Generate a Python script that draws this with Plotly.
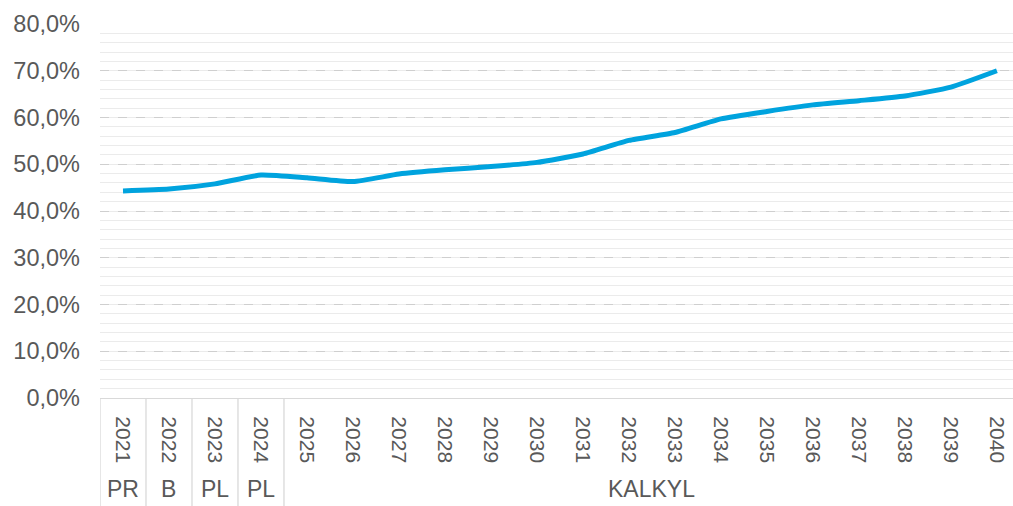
import plotly.graph_objects as go

years = [str(y) for y in range(2021, 2041)]
values = [44.3, 44.7, 45.8, 47.7, 47.1, 46.3, 47.9, 48.8, 49.5, 50.4,
          52.2, 55.1, 56.8, 59.7, 61.3, 62.7, 63.6, 64.6, 66.5, 70.0]
groups = ["PR", "B", "PL", "PL", "KALKYL"]
group_sizes = [1, 1, 1, 1, 16]
y_ticks = [0, 10, 20, 30, 40, 50, 60, 70, 80]
y_ticklabels = [f"{v},0%" for v in y_ticks]

FONT = "Liberation Sans, Arial, sans-serif"
GREY = "#595959"

idx = list(range(len(years)))
fig = go.Figure()
fig.add_trace(go.Scatter(
    x=idx, y=[v / 100 for v in values], mode="lines",
    line=dict(color="#00A3DE", width=5, shape="spline", smoothing=0.5),
    hoverinfo="skip", showlegend=False,
))

shapes = []
annotations = []
start = 0
for name, size in zip(groups, group_sizes):
    shapes.append(dict(type="line", xref="x", yref="paper",
                       x0=start - 0.5, x1=start - 0.5, y0=0, y1=-0.3,
                       line=dict(color="#D9D9D9", width=1.3)))
    center = start + (size - 1) / 2
    annotations.append(dict(text=name, xref="x", yref="paper", x=center, y=-0.243,
                            showarrow=False, xanchor="center", yanchor="middle",
                            font=dict(family=FONT, size=23, color=GREY)))
    start += size
shapes.append(dict(type="line", xref="x", yref="paper",
                   x0=start - 0.5, x1=start - 0.5, y0=0, y1=-0.3,
                   line=dict(color="#D9D9D9", width=1.3)))

fig.update_layout(
    width=1013, height=506,
    margin=dict(l=100, r=0, t=24, b=107.5),
    paper_bgcolor="white", plot_bgcolor="white",
    font=dict(family=FONT, size=22, color=GREY),
    shapes=shapes, annotations=annotations,
    xaxis=dict(
        range=[-0.5, 19.35], tickmode="array", tickvals=idx, ticktext=years,
        tickangle=90, showgrid=False, zeroline=False, automargin=False,
        showline=True, linecolor="#D9D9D9", linewidth=1.3,
        ticks="", ticklabelstandoff=13,
        tickfont=dict(family=FONT, size=21, color=GREY),
    ),
    yaxis=dict(
        range=[0, 0.8], tickmode="array", tickvals=[v / 100 for v in y_ticks],
        ticktext=y_ticklabels, showgrid=True, gridcolor="#CFCFCF", griddash="dash",
        gridwidth=1, zeroline=False, showline=False, ticks="", automargin=False,
        ticklabelstandoff=19,
        tickfont=dict(family=FONT, size=23.5, color=GREY),
        minor=dict(dtick=0.02, showgrid=True, gridcolor="#EBEBEB", gridwidth=1,
                   griddash="solid"),
    ),
)

fig.write_html("out.html", config={"displayModeBar": False},
               post_script="document.body.style.margin='0';document.body.style.overflow='hidden';")
